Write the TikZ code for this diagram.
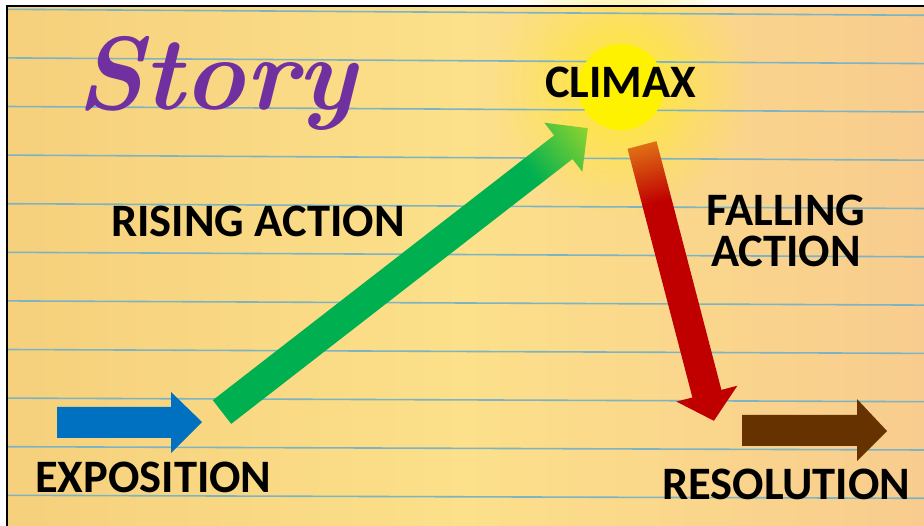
\documentclass[tikz,border=0pt]{standalone}
\usepackage{fontspec}
\setmainfont{Carlito}
\newfontfamily\storyfont{Latin Modern Roman}
\usetikzlibrary{fadings}
\definecolor{paperL}{HTML}{F6D07C}
\definecolor{paperM}{HTML}{FCE08A}
\definecolor{paperR}{HTML}{F8CC8E}
\definecolor{glowY}{HTML}{FFE83A}
\definecolor{ruleC}{HTML}{7DB4C4}
\definecolor{blueA}{HTML}{0070C0}
\definecolor{brownA}{HTML}{663300}
\definecolor{greenA}{HTML}{00B050}
\definecolor{greenB}{HTML}{A2D82A}
\definecolor{redA}{HTML}{C00000}
\definecolor{orangeA}{HTML}{E8921C}
\definecolor{storyP}{HTML}{7030A0}
\pgfdeclarehorizontalshading{greensh}{100bp}{color(0bp)=(greenA); color(74bp)=(greenA); color(86bp)=(greenB); color(100bp)=(greenB)}
\pgfdeclarehorizontalshading{redsh}{100bp}{color(0bp)=(orangeA); color(17bp)=(orangeA); color(33bp)=(redA); color(100bp)=(redA)}
\tikzfading[name=glowfade, inner color=transparent!0, outer color=transparent!100]
\tikzset{
  lbl/.style={font=\fontsize{46.5}{50}\selectfont\bfseries, inner sep=0pt, text=black},
  rulel/.style={draw=ruleC, line width=1.6pt},
}
\begin{document}
\begin{tikzpicture}[x=1pt,y=-1pt]
\useasboundingbox (0,0) rectangle (924,526);
\fill[white] (0,0) rectangle (924,526);
\shade[left color=paperL, right color=paperR, middle color=paperM] (7,6) rectangle (924,526);
\fill[glowY, path fading=glowfade] (621,87) circle (130pt);
\fill[glowY, opacity=0.5, path fading=glowfade] (621,87) circle (80pt);
% ruled lines
\foreach \i in {0,...,10} {
  \pgfmathsetmacro{\yl}{9.3+48.6*\i}
  \pgfmathsetmacro{\yr}{\yl+6-0.3*\i}
  \draw[rulel] (7,\yl) -- (924,\yr);
}
% frame
\draw[line width=2.5pt] (7.2,526) -- (7.2,6.2) -- (924,6.2);
% climax circle
\fill[yellow] (621,87) circle (43pt);
% blue arrow
\fill[blueA] (57,407) -- (171,407) -- (171,392) -- (202,422) -- (171,453) -- (171,438) -- (57,438) -- cycle;
% brown arrow
\fill[brownA] (742,415) -- (857,415) -- (857,399) -- (887,431) -- (857,461) -- (857,446) -- (742,446) -- cycle;
% green arrow
\shade[shading=greensh, shading angle=37.8] (212.8,400.2) -- (554.1,135.4) -- (544.3,122.7) -- (587.8,128.2) -- (582.3,171.7) -- (572.5,159.0) -- (231.2,423.9) -- cycle;
% red arrow
\shade[shading=redsh, shading angle=-75] (627.5,148.8) -- (692.4,397.5) -- (676.4,401.6) -- (713.9,420.8) -- (737.4,385.7) -- (721.4,389.9) -- (656.5,141.2) -- cycle;
% texts
\node[anchor=base west, text=storyP, inner sep=0pt, font=\storyfont\fontsize{104}{104}\selectfont\bfseries\itshape] (story) at (76,110) {Story};
\node[lbl, anchor=base west] (climax) at (545,98) {CLIMAX};
\node[lbl, anchor=base west] (rising) at (111,237) {RISING ACTION};
\node[lbl, anchor=base, align=center, font=\fontsize{46.5}{41}\selectfont\bfseries] (falling) at (786,267) {FALLING\\ACTION};
\node[lbl, anchor=base west] (expo) at (35,493) {EXPOSITION};
\node[lbl, anchor=base west] (reso) at (662,500) {RESOLUTION};
\end{tikzpicture}
\end{document}
